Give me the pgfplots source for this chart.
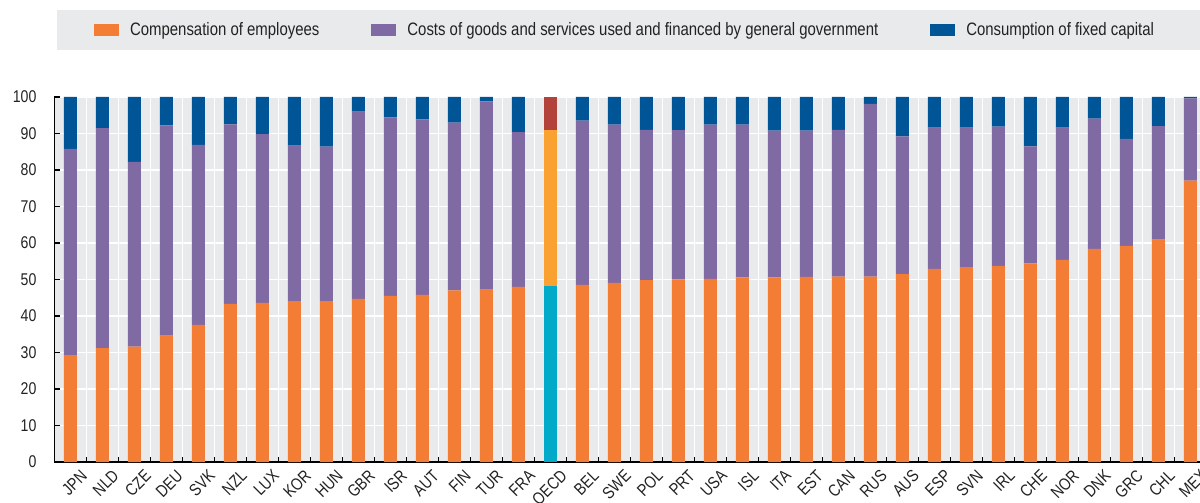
\documentclass[border=0pt]{standalone}
\usepackage{fontspec}
\setmainfont{Liberation Sans}[FakeStretch=0.83]
\usepackage{pgfplots}
\pgfplotsset{compat=1.18}
\usepackage{pgfplotstable}
\definecolor{cOrange}{HTML}{F47D36}
\definecolor{cPurple}{HTML}{806AA4}
\definecolor{cBlue}{HTML}{005596}
\definecolor{oCyan}{HTML}{00AAC8}
\definecolor{oOrange}{HTML}{F9A131}
\definecolor{oRed}{HTML}{B3433A}
\definecolor{bgGray}{HTML}{E9EAEC}
\definecolor{txt}{HTML}{222222}
\pgfplotstableread{
x comp goods fixed oc og of
0 29.3 56.5 14.2 0 0 0
1 31.2 60.3 8.5 0 0 0
2 31.6 50.6 17.8 0 0 0
3 34.6 57.6 7.8 0 0 0
4 37.6 49.3 13.1 0 0 0
5 43.3 49.2 7.5 0 0 0
6 43.6 46.2 10.2 0 0 0
7 44.1 42.6 13.3 0 0 0
8 44.1 42.3 13.6 0 0 0
9 44.7 51.3 4.0 0 0 0
10 45.5 48.9 5.6 0 0 0
11 45.8 48.1 6.1 0 0 0
12 47.0 46.0 7.0 0 0 0
13 47.2 51.6 1.2 0 0 0
14 48.0 42.4 9.6 0 0 0
15 0 0 0 48.3 42.7 9.0
16 48.5 45.0 6.5 0 0 0
17 49.1 43.3 7.6 0 0 0
18 49.8 41.2 9.0 0 0 0
19 50.0 40.9 9.1 0 0 0
20 50.2 42.2 7.6 0 0 0
21 50.6 41.8 7.6 0 0 0
22 50.6 40.2 9.2 0 0 0
23 50.7 40.1 9.2 0 0 0
24 50.8 40.2 9.0 0 0 0
25 50.8 47.3 1.9 0 0 0
26 51.5 37.7 10.8 0 0 0
27 52.9 38.7 8.4 0 0 0
28 53.4 38.2 8.4 0 0 0
29 53.7 38.2 8.1 0 0 0
30 54.4 32.1 13.5 0 0 0
31 55.4 36.2 8.4 0 0 0
32 58.4 35.7 5.9 0 0 0
33 59.2 29.3 11.5 0 0 0
34 60.9 31.1 8.0 0 0 0
35 77.1 22.5 0.4 0 0 0
}\data
\begin{document}
\begin{tikzpicture}
\fill[bgGray] (1.25pt,206pt) rectangle (572.75pt,226pt);
\begin{axis}[
  scale only axis,
  width=572.75pt, height=182.5pt,
  ybar stacked, bar width=6.5pt,
  xmin=-0.5, xmax=35.3,
  ymin=0, ymax=100,
  ytick={0,10,...,100},
  xtick={0,...,35},
  xticklabels={JPN,NLD,CZE,DEU,SVK,NZL,LUX,KOR,HUN,GBR,ISR,AUT,FIN,TUR,FRA,OECD,BEL,SWE,POL,PRT,USA,ISL,ITA,EST,CAN,RUS,AUS,ESP,SVN,IRL,CHE,NOR,DNK,GRC,CHL,MEX},
  minor xtick={0.5,1.5,...,34.5},
  axis background/.style={fill=bgGray},
  axis x line*=bottom, axis y line*=left,
  axis line style={line width=0.9pt, black},
  tick align=inside,
  major x tick style={draw=none},
  minor x tick style={black, line width=0.8pt},
  minor tick length=2.5pt,
  major tick length=2.5pt,
  y tick style={black, line width=0.8pt},
  xminorgrids=true, ymajorgrids=true,
  minor x grid style={white, line width=0.6pt},
  major y grid style={white, line width=0.6pt},
  /pgf/number format/assume math mode=true,
  ticklabel style={font=\fontsize{8.5}{10}\selectfont, text=txt},
  yticklabel style={xshift=-5.5pt},
  xticklabel style={rotate=45, anchor=north east, inner sep=1pt, yshift=-4.5pt, xshift=2pt},
  legend style={at={(0.502,1.1836)}, anchor=center, draw=none, fill=none,
    font=\fontsize{9}{11}\selectfont, text=txt,
    legend columns=3,
    /tikz/every even column/.append style={column sep=20.5pt},
    nodes={inner xsep=5.5pt}},
  legend image code/.code={\fill[#1] (0pt,-3pt) rectangle (12.5pt,3pt);},
  clip=true,
]
\addplot[fill=cOrange, draw=none] table[x=x, y=comp] {\data};
\addplot[fill=cPurple, draw=none] table[x=x, y=goods] {\data};
\addplot[fill=cBlue, draw=none] table[x=x, y=fixed] {\data};
\addplot[fill=oCyan, draw=none, forget plot] table[x=x, y=oc] {\data};
\addplot[fill=oOrange, draw=none, forget plot] table[x=x, y=og] {\data};
\addplot[fill=oRed, draw=none, forget plot] table[x=x, y=of] {\data};
\legend{Compensation of employees, Costs of goods and services used and financed by general government, Consumption of fixed capital}
\end{axis}
\pgfresetboundingbox
\path[use as bounding box] (-27.25pt,-20.5pt) rectangle (572.75pt,231pt);
\end{tikzpicture}
\end{document}
